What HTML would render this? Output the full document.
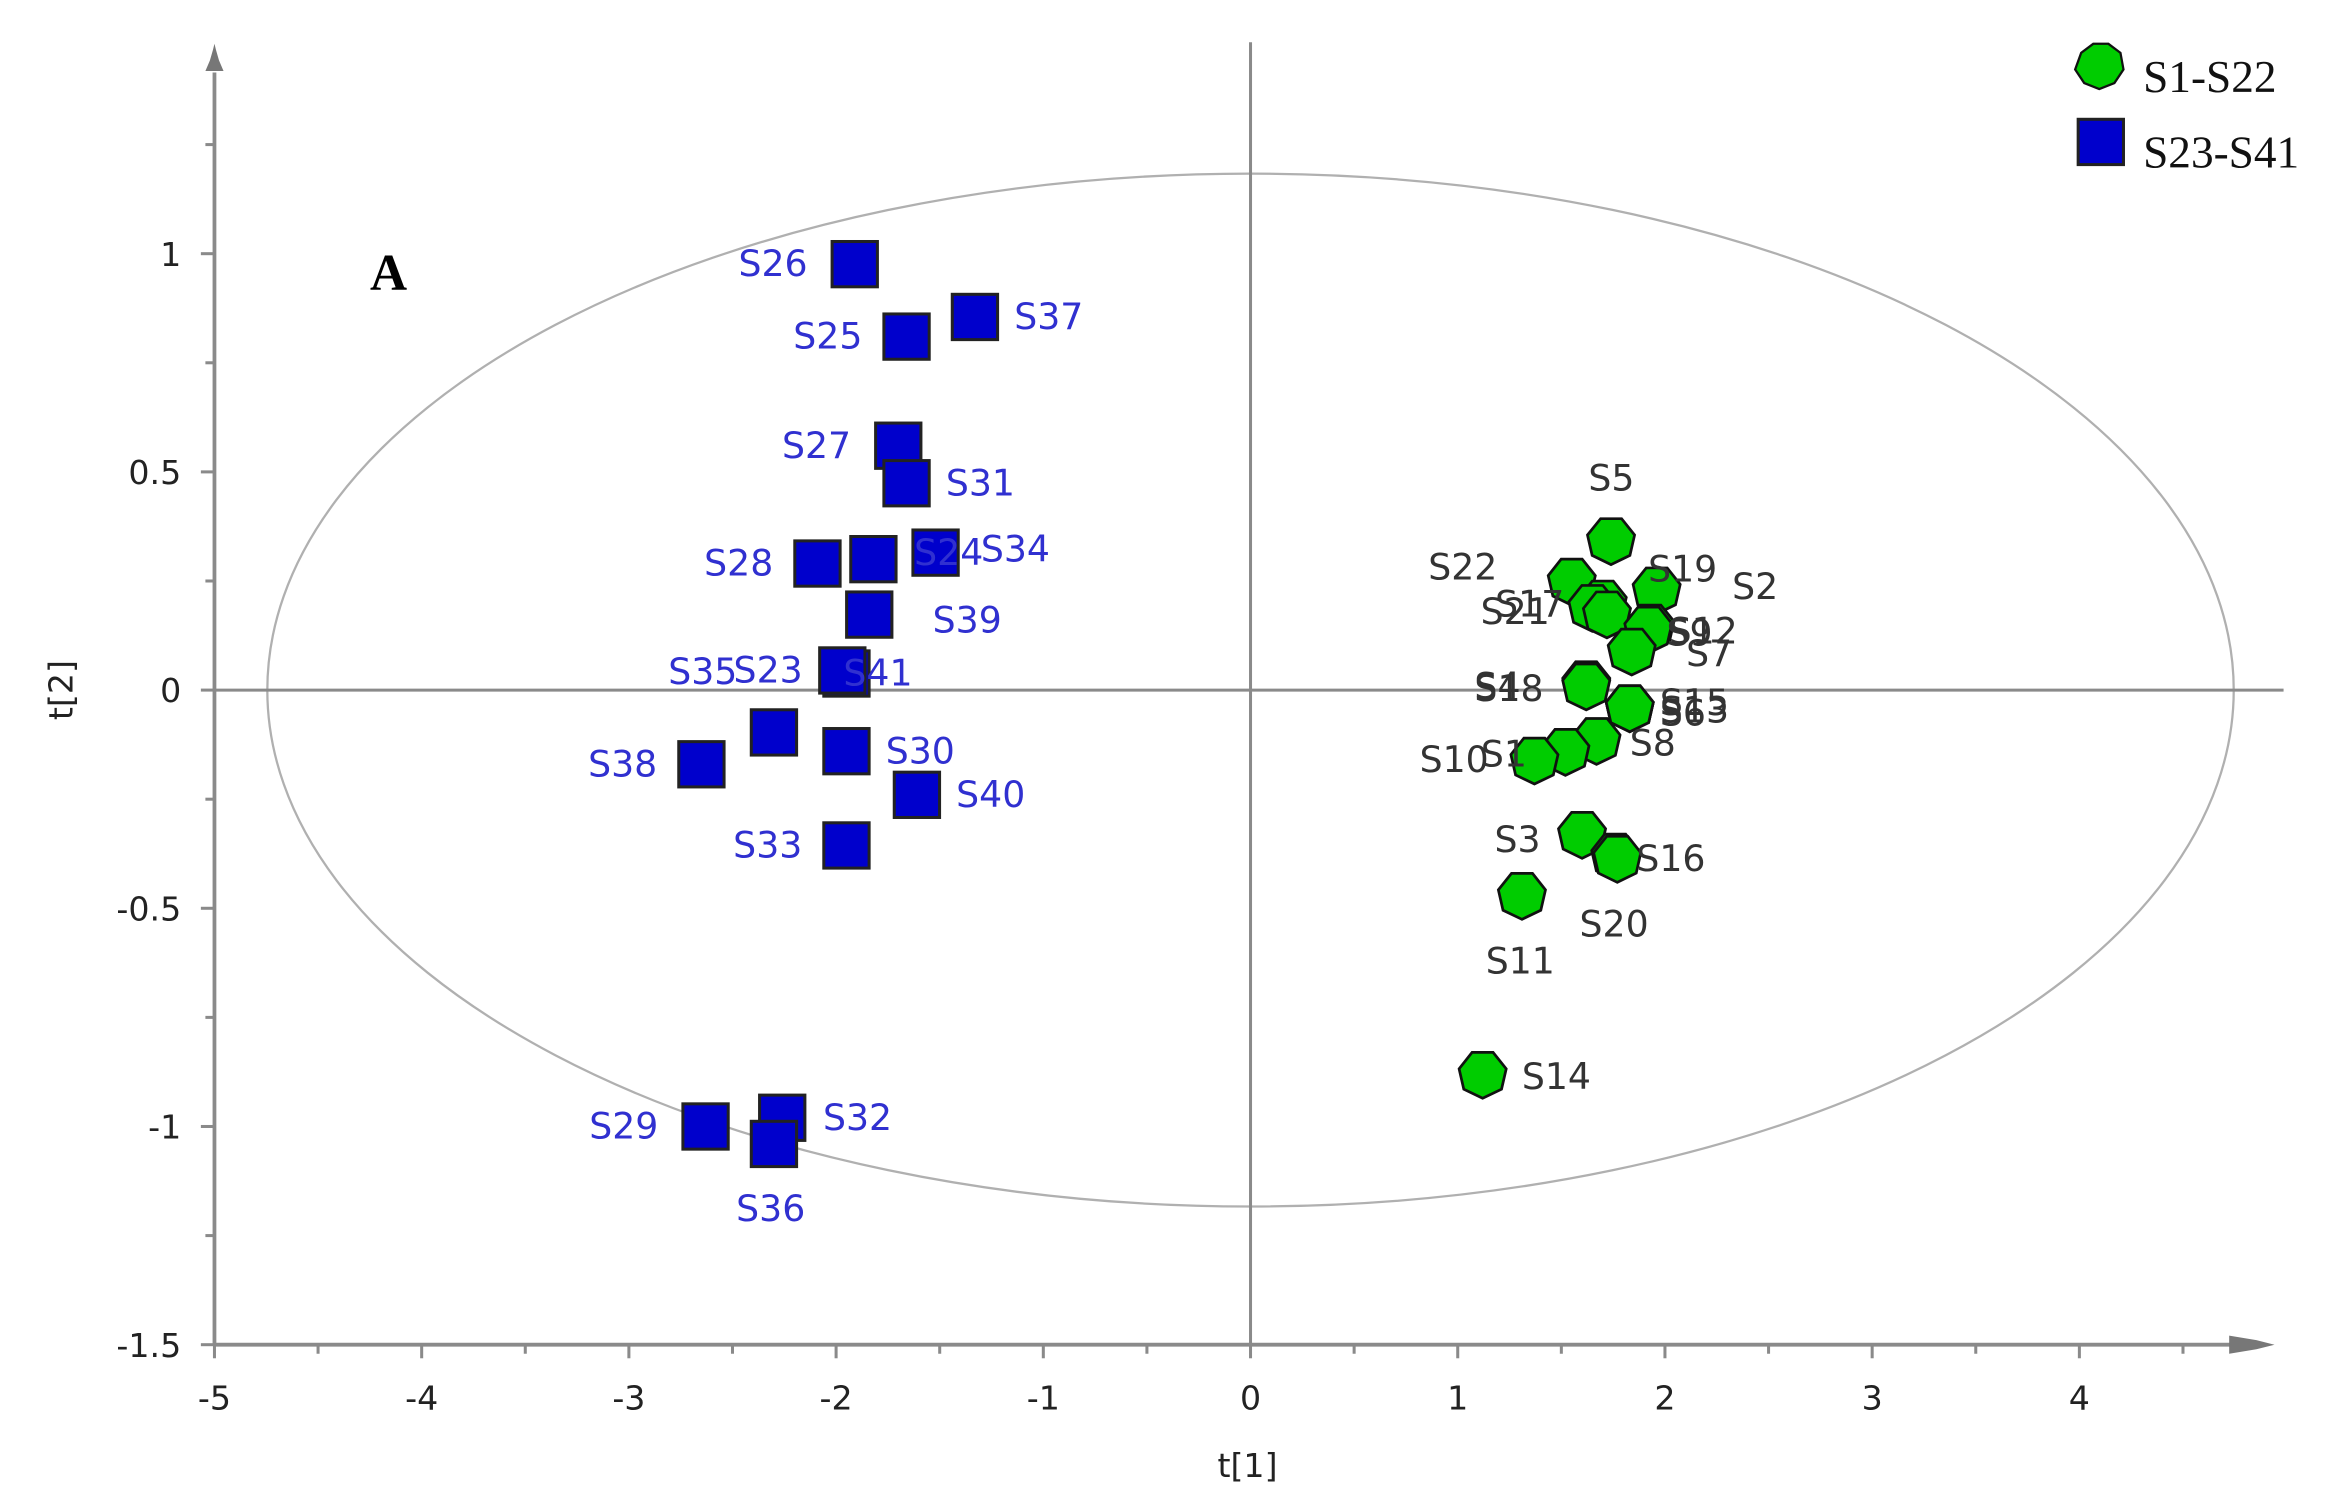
<!DOCTYPE html>
<html><head><meta charset="utf-8">
<style>
html,body{margin:0;padding:0;background:#fff;}
svg{display:block;}
text{font-family:"DejaVu Sans","Liberation Sans",sans-serif;}
</style></head>
<body>
<svg id="chart" width="2347" height="1504" viewBox="0 0 1554 996" preserveAspectRatio="none" xmlns="http://www.w3.org/2000/svg">
  <g id="axes"></g>
  <g id="marks"></g>
  <text x="245" y="192" font-family="Liberation Serif, serif" font-weight="bold" font-size="34" fill="#000" style="font-family:'Liberation Serif',serif">A</text>
  <g>
    <polygon points="1390,59 1380,55 1374,46 1378,35 1386,29 1396,29 1404,35 1406,46 1400,55" fill="#00cc00" stroke="#111" stroke-width="1.5"/>
    <text x="1419" y="61" font-size="30" fill="#111" style="font-family:'Liberation Serif',serif">S1-S22</text>
    <rect x="1376" y="79" width="30" height="30" fill="#0000cc" stroke="#222" stroke-width="2"/>
    <text x="1419" y="111" font-size="30" fill="#111" style="font-family:'Liberation Serif',serif">S23-S41</text>
  </g>
</svg>
<script>
// ---- data ----
const blueNames = ["S26","S37","S25","S27","S31","S28","S24","S34","S39","S41","S23","S35","S38","S30","S40","S33","S29","S32","S36","S33b"];
const blueX = [-1.91,-1.33,-1.66,-1.70,-1.66,-2.09,-1.82,-1.52,-1.84,-1.95,-1.97,-2.30,-2.65,-1.95,-1.61,-1.95,-2.63,-2.26,-2.30];
const blueY = [0.976,0.855,0.81,0.56,0.474,0.29,0.30,0.315,0.173,0.038,0.045,-0.097,-0.17,-0.14,-0.24,-0.356,-1.0,-0.98,-1.04];
const greenNames = ["S5","S22","S2","S19","S21","S17","S12","S9","S7","S4","S18","S15","S6","S13","S8","S1","S10","S3","S16","S11","S20","S14"];
const greenX = [1.74,1.55,1.96,1.70,1.65,1.72,1.93,1.92,1.84,1.62,1.62,1.83,1.83,1.83,1.67,1.52,1.37,1.60,1.76,1.31,1.77,1.12];
const greenY = [0.343,0.25,0.23,0.20,0.19,0.175,0.145,0.14,0.09,0.015,0.01,-0.04,-0.04,-0.04,-0.115,-0.14,-0.16,-0.33,-0.38,-0.47,-0.385,-0.88];
const xTicks = [-5,-4,-3,-2,-1,0,1,2,3,4];
const yTicks = [-1.5,-1,-0.5,0,0.5,1];
const yTickLabels = ["-1.5","-1","-0.5","0","0.5","1"];

// ---- axis functions ----
const X0 = 828, XU = 137.2, Y0 = 457, YU = 289;
const sx = v => X0 + v * XU;
const sy = v => Y0 - v * YU;
const NS = "http://www.w3.org/2000/svg";
function mk(tag, attrs, parent){ const e=document.createElementNS(NS,tag); for(const k in attrs) e.setAttribute(k,attrs[k]); parent.appendChild(e); return e; }
const axes = document.getElementById('axes');
const marks = document.getElementById('marks');
const AX = sx(-5), AY = sy(-1.5);

// ellipse
let el = mk('ellipse',{cx:X0,cy:Y0,rx:651,ry:342,fill:'none',stroke:'#b0b0b0','stroke-width':1.5},axes);


// crosshair lines
el = mk('line',{x1:X0,y1:28,x2:X0,y2:AY,stroke:'#8a8a8a','stroke-width':2},axes);


el = mk('line',{x1:AX,y1:Y0,x2:1512,y2:Y0,stroke:'#8a8a8a','stroke-width':2},axes);


// axis lines
el = mk('line',{x1:AX,y1:48,x2:AX,y2:AY,stroke:'#8a8a8a','stroke-width':2.5},axes);


el = mk('line',{x1:AX,y1:AY,x2:1480,y2:AY,stroke:'#8a8a8a','stroke-width':2.5},axes);


el = mk('polygon',{points:`${AX-6},47 ${AX+6},47 ${AX+3},40 ${AX+1},33 ${AX},29 ${AX-1},33 ${AX-3},40`,fill:'#777'},axes);


el = mk('polygon',{points:`1476,${AY-6} 1476,${AY+6} 1494,${AY+3} 1506,${AY} 1494,${AY-3}`,fill:'#777'},axes);



// x ticks
for (let v=-5; v<=4.5; v+=0.5){
  const major = Number.isInteger(v);
  el = mk('line',{x1:sx(v),y1:AY,x2:sx(v),y2:AY+(major?9:6),stroke:'#8a8a8a','stroke-width':2},axes);
  
  
}
xTicks.forEach(v=>{
  const t = mk('text',{x:sx(v),y:AY+43,'font-size':22,'text-anchor':'middle',fill:'#222'},axes);
  t.textContent = String(v);
  
  
});
// y ticks
for (let v=-1.5; v<=1.26; v+=0.25){
  const major = Math.abs(v*2-Math.round(v*2))<1e-6;
  el = mk('line',{x1:AX-(major?9:6),y1:sy(v),x2:AX,y2:sy(v),stroke:'#8a8a8a','stroke-width':2},axes);
  
  
}
yTicks.forEach((v,i)=>{
  const t = mk('text',{x:AX-22,y:sy(v)+8,'font-size':22,'text-anchor':'end',fill:'#222'},axes);
  t.textContent = yTickLabels[i];
  
  
});
// axis titles
el = mk('text',{x:826,y:978,'font-size':22,'text-anchor':'middle',fill:'#222'},axes);
el.textContent='t[1]';


el = mk('text',{x:0,y:0,'font-size':22,'text-anchor':'middle',fill:'#222',transform:'translate(48,457) rotate(-90)'},axes);
el.textContent='t[2]';



// label offsets (layout only)
const blueLab = {S26:[-77,8],S37:[26,8],S25:[-75,8],S27:[-77,8],S31:[26,8],S28:[-75,8],S24:[27,4],S34:[30,6],S39:[42,12],S41:[-2,8],S23:[-72,8],S35:[-70,-32],S38:[-75,8],S30:[26,8],S40:[26,8],S33:[-75,8],S29:[-77,8],S32:[27,8],S36:[-25,51]};
const greenLab = {S5:[-15,-33],S22:[-95,-1],S2:[50,6],S19:[30,-14],S21:[-74,11],S17:[-74,2],S12:[12,11],S9:[12,11],S7:[36,10],S4:[-74,10],S18:[-74,10],S15:[20,5],S6:[20,12],S13:[20,10],S8:[22,10],S1:[-56,10],S10:[-76,8],S3:[-58,12],S16:[14,10],S11:[-24,52],S20:[-25,52],S14:[26,10]};

// blue squares
blueX.forEach((xv,i)=>{
  const cx=sx(xv), cy=sy(blueY[i]), n=blueNames[i];
  const r = mk('rect',{x:cx-15,y:cy-15,width:30,height:30,fill:'#0000cc',stroke:'#222','stroke-width':2},marks);
  
  
});
blueX.forEach((xv,i)=>{
  const n=blueNames[i], o=blueLab[n]||[20,8];
  const t = mk('text',{x:sx(xv)+o[0],y:sy(blueY[i])+o[1],'font-size':24,fill:'#3030d0'},marks);
  t.textContent=n;
  
  
});
// green heptagons
function hept(cx,cy,r){
  const pts=[];
  for(let k=0;k<7;k++){ const a=(90+k*360/7)*Math.PI/180; pts.push((cx+r*Math.cos(a)).toFixed(1)+','+(cy+r*Math.sin(a)).toFixed(1)); }
  return pts.join(' ');
}
greenX.forEach((xv,i)=>{
  const n=greenNames[i];
  const p = mk('polygon',{points:hept(sx(xv),sy(greenY[i]),16),fill:'#00cc00',stroke:'#111','stroke-width':1.8},marks);
  
  
});
greenX.forEach((xv,i)=>{
  const n=greenNames[i], o=greenLab[n]||[20,8];
  const t = mk('text',{x:sx(xv)+o[0],y:sy(greenY[i])+o[1],'font-size':24,fill:'#333'},marks);
  t.textContent=n;
  
  
});
</script>
</body></html>
